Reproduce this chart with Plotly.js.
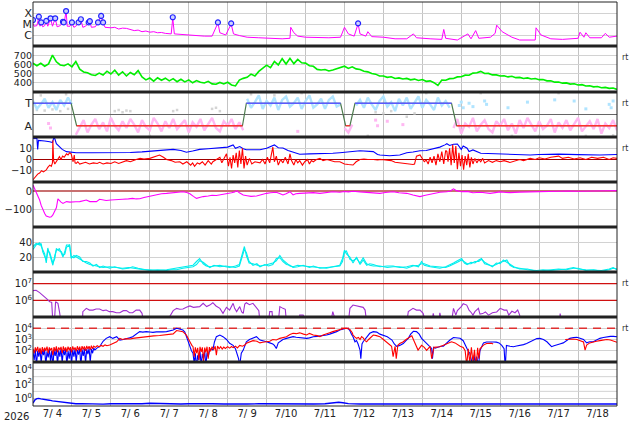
<!DOCTYPE html>
<html><head><meta charset="utf-8">
<script src="https://cdn.plot.ly/plotly-3.0.1.min.js"></script>
<style>html,body{margin:0;padding:0;background:#fff}#c{width:634px;height:424px}</style>
</head><body><div id="c"></div>
<script>
// ---------- DATA (day offset from 2026-07-04 00:00 UT) ----------
const yearLabel = '2026';
const dayTickFormat = '%-m/%e';

// X-ray flux (W/m2)
const xray = [[0,1.15e-5],[0.03,6.3e-6],[0.1,7.1e-6],[0.15,4.0e-5],[0.18,6.3e-6],[0.21,1.26e-5],[0.25,5.6e-6],[0.3,7.1e-6],[0.34,1.66e-5],[0.38,6.3e-6],[0.45,3.2e-5],[0.5,6.3e-6],[0.57,3.2e-5],[0.62,5.6e-6],[0.7,7.1e-6],[0.77,1.5e-5],[0.8,1.26e-5],[0.85,1.4e-4],[0.88,6.3e-6],[0.95,6.3e-6],[1.0,1.26e-5],[1.05,5.0e-6],[1.1,6.3e-6],[1.17,1.26e-5],[1.23,2.5e-5],[1.28,5.0e-6],[1.35,6.3e-6],[1.43,1.26e-5],[1.46,1.6e-5],[1.5,5.0e-6],[1.6,5.6e-6],[1.67,1.26e-5],[1.75,5.0e-5],[1.8,1.26e-5],[1.85,5.0e-6],[2.0,4.5e-6],[2.1,5.0e-6],[2.2,3.5e-6],[2.3,4.2e-6],[2.4,4.0e-6],[2.5,3.0e-6],[2.6,2.5e-6],[2.7,2.8e-6],[2.8,2.0e-6],[2.9,2.3e-6],[3.0,1.8e-6],[3.1,2.0e-6],[3.2,1.6e-6],[3.3,1.7e-6],[3.4,1.4e-6],[3.55,1.26e-6],[3.59,3.5e-5],[3.63,1.26e-6],[3.8,1.1e-6],[4.0,1.0e-6],[4.2,8.9e-7],[4.4,7.9e-7],[4.6,7.9e-7],[4.75,1.26e-5],[4.8,1.6e-6],[4.95,1.0e-6],[5.09,1.0e-5],[5.15,1.26e-6],[5.3,8.9e-7],[5.5,6.3e-7],[5.8,5.6e-7],[6.0,5.0e-7],[6.2,4.5e-7],[6.4,4.5e-7],[6.6,5.0e-7],[6.62,5.0e-6],[6.7,1.6e-6],[6.8,7.9e-7],[7.0,6.3e-7],[7.3,5.6e-7],[7.6,5.6e-7],[7.9,6.3e-7],[8.0,5.0e-6],[8.1,1.26e-6],[8.25,7.9e-7],[8.35,1.05e-5],[8.4,1.26e-6],[8.55,7.9e-7],[8.6,2.0e-6],[8.7,7.1e-7],[9.0,6.3e-7],[9.3,4.5e-7],[9.6,4.5e-7],[9.77,1.26e-6],[9.85,5.6e-7],[10.2,4.5e-7],[10.5,4.0e-7],[10.55,3.2e-6],[10.6,5.0e-7],[10.9,3.5e-7],[11.17,1.26e-6],[11.25,4.5e-7],[11.37,2.5e-6],[11.45,5.0e-7],[11.75,6.3e-7],[11.87,1.4e-6],[11.91,7.9e-6],[12.05,2.0e-6],[12.3,6.3e-7],[12.5,3.5e-7],[12.9,3.5e-7],[12.92,4.5e-6],[13.05,1.0e-6],[13.3,4.5e-7],[13.6,4.0e-7],[14.0,5.0e-7],[14.05,1.8e-6],[14.15,6.3e-7],[14.2,1.6e-6],[14.3,5.6e-7],[14.6,5.6e-7],[14.7,1.4e-6],[14.8,6.3e-7],[15.0,7.9e-7]];
const flares = [[0.0,2.3e-5],[0.15,4.6e-5],[0.21,1.4e-5],[0.34,1.9e-5],[0.45,3.3e-5],[0.57,3.3e-5],[0.77,1.6e-5],[0.79,1.4e-5],[0.85,1.5e-4],[1.0,1.4e-5],[1.17,1.4e-5],[1.23,2.7e-5],[1.43,1.4e-5],[1.46,1.8e-5],[1.67,1.4e-5],[1.75,5.4e-5],[1.8,1.4e-5],[3.59,4.1e-5],[4.75,1.4e-5],[5.09,1.15e-5],[8.35,1.15e-5]];
const xrayTickVals = [1e-6,1e-5,1e-4];
const xrayTickText = ['C','M','X'];

// Solar wind speed (km/s), sampled every 0.1 day from day 0
const speedStep = 0.1;
const speed = [612,586,612,580,606,700,628,594,585,606, 574,632,548,518,510,488,480,506,484,526,
 496,536,484,520,474,512,488,532,464,432, 452,418,455,428,450,421,445,412,438,410,
 432,400,424,405,398,416,388,384,404,388, 406,376,366,430,448,460,494,474,524,554,
 592,564,632,594,662,604,666,608,654,618, 614,586,579,546,539,544,528,539,550,565,
 580,556,573,551,544,526,519,501,494,474, 474,459,465,447,453,441,448,432,440,425,
 435,416,421,401,372,430,428,445,447,464, 466,483,482,505,510,524,501,502,486,486,
 474,476,464,471,456,459,447,453,441,447, 434,435,421,422,407,409,396,399,386,389,
 376,380,366,368,356,359,347,350,340,343, 328];
const speedTicks = [400,500,600,700];

// IMF sector (T = +1, A = -1) and angle cloud, sampled every 0.1 day
const sectorDay = [0,0.98,1.12,5.38,5.48,7.9,8.03,8.14,8.27,10.75,10.88,15];
const sectorVal = [1,1,-1,-1,1,1,-1,-1,1,1,-1,-1];
const phiStep = 0.1;
const phi = [1.2,0.5,0.9,1.4,0.6,1.1,0.4,1.3,0.8,1.5, 0.9, -1.8,
 -1.1,-0.5,-1.6,-0.9,-0.4,-1.3,-0.7,-1.5,-0.3,-1.0,-1.4,-0.6,-1.2,-0.4,-0.9,-1.6,-0.5,-1.1,-1.4,-0.3,-0.8,-1.5,-0.6,-1.2,-0.4,-1.3,-0.9,-0.5,-1.6,-0.7,-1.1,-0.4,-1.4,-0.8,-0.3,-1.2,-1.5,-0.6,-1.0,-0.4,-1.3,-0.7,-1.4,
 1.4,0.6,1.1,1.7,0.5,1.2,0.8,1.5,0.4,1.3,1.6,0.7,1.0,1.5,0.5,1.2,1.7,0.6,0.9,1.4,0.5,1.3,1.6,0.7,
 0.9, -1.2,-1.6,-0.9, 0.8,
 1.3,0.6,1.5,0.9,0.4,1.2,1.6,0.7,1.1,0.3,1.4,0.8,1.5,0.5,1.0,1.6,0.6,1.3,0.9,0.4,1.5,0.8,1.2,0.6,
 -1.2,-0.4,-1.7,-0.8,-1.1,-0.3,-1.5,-0.9,-0.5,-1.3,-1.6,-0.6,-1.0,-0.4,-1.4,-0.8,-1.7,-0.5,-1.2,-0.3,-0.9,-1.5,-0.6,-1.3,-1.0,-0.4,-1.6,-0.7,-1.2,-0.5,-1.4,-0.9,-0.3,-1.5,-1.1,-0.6,-1.3,-0.4,-1.7,-0.8,-1.2,-0.5,-1.4];
const phiGray = [[0.1,0.4],[0.3,0.35],[0.5,0.45],[0.7,0.3],[0.9,0.5],[0.2,1.7],[0.85,1.8],[1.0,1.9],[2.1,0.3],[2.2,0.4],[2.3,0.2],[2.4,0.35],[2.5,0.3],[3.6,0.3],[3.7,0.4],[4.6,0.5],[4.7,0.6],[4.8,0.3],[5.6,1.8],[6.2,1.7],[6.9,1.9],[8.8,0.2],[9.0,0.1],[9.2,0.3],[9.6,-0.2],[9.8,0.1],[10.1,1.9],[11.5,1.9],[12.3,-1.9],[13.0,-1.9],[13.5,1.9],[14.2,-1.9],[14.9,-1.85],[5.0,-1.9],[3.0,-1.9],[8.6,-1.9]];
const phiBlueDots = [[10.95,0.8],[11.0,1.1],[11.05,0.6],[11.2,1.0],[11.3,0.7],[11.6,1.2],[11.65,0.9],[12.2,0.6],[12.7,1.1],[13.4,1.3],[13.9,1.2],[14.2,0.5],[14.8,0.9],[14.85,0.6],[14.9,1.2]];
const phiPinkDots = [[8.8,-0.5],[8.85,-1.0],[9.1,-0.6],[9.5,-0.9],[6.8,-1.5],[0.4,-0.8],[0.45,-1.2]];
const sectorTickVals = [-1,1];
const sectorTickText = ['A','T'];

// IMF Bt (blue) and Bz (red), nT
const bt = [[0,19],[0.05,18.5],[0.1,19],[0.12,9],[0.14,17],[0.2,17],[0.3,16.5],[0.43,15.8],[0.5,15],[0.53,19],[0.56,18.5],[0.6,14],[0.64,12.5],[0.75,9],[0.86,7],[1.0,6.5],[1.11,6],[1.5,6],[2.0,6],[2.5,6.2],[2.8,6.8],[3.08,7.8],[3.3,8.2],[3.6,9],[3.8,8],[3.94,6.5],[4.1,7.5],[4.28,9],[4.5,9.5],[4.8,10.2],[5.0,11],[5.14,12.9],[5.2,10],[5.31,11.5],[5.4,9.5],[5.48,8.7],[5.83,8.7],[6.0,10],[6.16,12.3],[6.2,13],[6.3,10.5],[6.42,10.2],[6.55,8],[6.68,6.5],[6.85,4.6],[7.1,5],[7.37,5],[7.7,5.5],[7.88,6],[8.1,7],[8.4,7.8],[8.74,7],[8.85,4.5],[8.91,4],[9.16,3.3],[9.42,4],[9.6,6],[9.76,6.6],[9.94,7.8],[10.1,8],[10.28,9.5],[10.45,11],[10.58,13],[10.63,14],[10.7,12.5],[10.8,13.5],[10.9,13.8],[11.0,9],[11.05,12],[11.15,10],[11.2,7],[11.3,8.5],[11.5,5.5],[12.0,5],[12.5,4.5],[12.77,4],[13.0,4.5],[13.5,4.8],[14.0,4.3],[14.56,4],[15.0,4.5]];
const bz = [[0,-18],[0.04,-16],[0.08,-15],[0.12,-13],[0.17,-12],[0.22,-10],[0.27,-11],[0.34,-9.3],[0.38,-7],[0.43,-5],[0.47,-6],[0.5,-3],[0.51,17],[0.53,-1],[0.56,-4],[0.6,-2],[0.64,1],[0.68,2.5],[0.72,0],[0.76,3],[0.8,2],[0.86,5],[0.9,4],[0.94,6],[0.98,5],[1.03,-2],[1.06,4],[1.08,-3],[1.11,-3.4],[1.15,-2],[1.2,-4],[1.28,-3],[1.35,-2.5],[1.45,-4],[1.55,-3],[1.65,-3.5],[1.71,-2.5],[1.8,-4],[1.9,-3],[2.0,-3.5],[2.1,-2],[2.2,-3.5],[2.3,-2.5],[2.4,-1],[2.5,-2],[2.56,-1],[2.65,0],[2.75,1],[2.85,0.5],[3.0,1],[3.1,2],[3.25,4],[3.35,2],[3.43,0],[3.55,-1],[3.65,-2.5],[3.77,-2],[3.85,-4],[3.95,-2],[4.05,-5],[4.1,-3],[4.15,-6],[4.22,-3],[4.28,-4],[4.35,-2],[4.42,-5],[4.5,-1],[4.58,-4],[4.62,-2],[4.7,0],[4.8,2],[4.85,-3],[4.9,1],[4.97,5],[5.02,-6],[5.06,2],[5.1,-8],[5.14,4],[5.18,-3],[5.22,6],[5.26,-7],[5.3,8],[5.34,-4],[5.38,10],[5.42,-8],[5.46,3],[5.5,-5],[5.56,1],[5.62,-4],[5.7,-2],[5.83,-3],[5.9,0],[5.96,-4],[6.02,2],[6.08,-3],[6.12,4],[6.16,11],[6.2,-2],[6.25,3],[6.3,-5],[6.36,0],[6.42,-3],[6.48,2],[6.55,-4],[6.6,5],[6.64,-1],[6.7,-5],[6.75,0],[6.8,-3],[6.85,-1],[6.92,-5],[6.98,-2],[7.05,0],[7.1,-4],[7.15,-1],[7.2,-2],[7.28,0],[7.37,1],[7.45,-1],[7.55,0],[7.65,-1],[7.75,-2],[7.88,-2],[7.95,-3],[8.0,-4],[8.1,-4.5],[8.22,-4.9],[8.3,-2],[8.4,0],[8.5,0.5],[8.6,0],[8.74,0],[8.85,-0.5],[8.95,0],[9.1,-0.5],[9.2,-1],[9.3,-2.5],[9.42,-3],[9.5,-3.5],[9.6,-4],[9.7,-4.5],[9.76,-4.5],[9.8,-4],[9.85,3],[9.94,4],[10.0,1],[10.05,-2],[10.1,-0.5],[10.15,-4],[10.2,2],[10.25,-3],[10.3,3],[10.35,-5],[10.4,5],[10.45,-2],[10.5,7],[10.55,-4],[10.6,8],[10.63,7],[10.66,-2],[10.7,10],[10.74,-5],[10.78,13],[10.82,-3],[10.86,12],[10.9,-8.6],[10.94,6],[10.98,-6],[11.02,4],[11.06,-9],[11.1,3],[11.14,-5],[11.18,5],[11.22,-7],[11.26,2],[11.3,-4],[11.35,1],[11.4,-3],[11.45,0],[11.5,-2],[11.55,1],[11.6,-3],[11.7,-1],[11.8,-2.5],[11.9,-1],[12.0,-2],[12.1,-1],[12.25,-2.6],[12.4,-1],[12.5,0],[12.6,-1],[12.77,1],[12.9,0],[13.0,1.5],[13.15,0.5],[13.3,2],[13.5,3],[13.6,1],[13.75,2],[13.9,0.5],[14.05,1.5],[14.2,0],[14.35,2],[14.5,1],[14.65,2],[14.8,0],[14.9,1.5],[15.0,1]];
const imfTicks = [-10,0,10];

// Dst (nT)
const dst = [[0,33],[0.04,15],[0.08,-4],[0.12,-25],[0.17,-50],[0.21,-80],[0.25,-102],[0.3,-125],[0.34,-139],[0.4,-145],[0.43,-146],[0.47,-143],[0.51,-133],[0.55,-115],[0.6,-93],[0.64,-44],[0.68,-54],[0.72,-62],[0.77,-69],[0.82,-64],[0.86,-59],[0.95,-62],[1.03,-63],[1.1,-60],[1.2,-59],[1.3,-55],[1.37,-50],[1.46,-59],[1.55,-57],[1.63,-59],[1.71,-46],[1.8,-52],[1.88,-53],[2.0,-50],[2.1,-50],[2.2,-47],[2.3,-46],[2.45,-44],[2.56,-41],[2.65,-44],[2.74,-43],[2.85,-36],[2.95,-31],[3.08,-22],[3.2,-18],[3.3,-15],[3.43,-13],[3.55,-10],[3.69,-7],[3.85,-4],[3.95,-8],[4.03,-15],[4.12,-30],[4.2,-41],[4.3,-35],[4.37,-31],[4.5,-28],[4.6,-24],[4.71,-25],[4.85,-20],[4.97,-17],[5.1,-10],[5.18,-5],[5.23,2],[5.3,-10],[5.4,-22],[5.5,-26],[5.6,-30],[5.74,-28],[5.85,-20],[6.0,-13],[6.1,-10],[6.25,-7],[6.35,-15],[6.42,-22],[6.5,-15],[6.6,-4],[6.68,-22],[6.75,-15],[6.85,-13],[7.0,-11],[7.2,-9],[7.37,-13],[7.5,-8],[7.7,-4],[7.88,-7],[8.0,-3],[8.1,-5],[8.22,-1],[8.4,-5],[8.57,-7],[8.75,-10],[8.91,-13],[9.05,-8],[9.25,-4],[9.4,-10],[9.6,-13],[9.76,-22],[9.85,-27],[9.94,-31],[10.05,-25],[10.12,-22],[10.28,-15],[10.45,-7],[10.63,-4],[10.72,0],[10.8,12],[10.88,2],[11.0,-4],[11.15,-2],[11.3,-10],[11.5,-7],[11.74,-13],[11.85,-9],[12.0,-5],[12.15,-8],[12.25,-9],[12.5,-6],[12.75,-5],[13.0,-4],[13.25,-2],[13.5,2],[13.75,0],[14.05,-1],[14.3,1],[14.56,2],[14.8,1],[15.0,2]];
const dstTicks = [-100,0];

// Cyan pair of indices: [day, line1, line2]
const cyan = [[0,34,30],[0.08,38,36],[0.17,36,39],[0.21,38,35],[0.25,27,30],[0.3,20,24],[0.34,16,12],[0.38,32,28],[0.43,23,26],[0.47,15,18],[0.51,9,12],[0.56,22,18],[0.6,29,31],[0.68,31,28],[0.73,24,27],[0.77,20,22],[0.82,28,24],[0.86,36,33],[0.94,36,36],[0.98,18,21],[1.05,22,19],[1.11,20,22],[1.2,17,20],[1.28,15,14],[1.37,12,14],[1.46,10,12],[1.54,9,8],[1.63,8,10],[1.71,7,6],[1.8,6,8],[1.97,7,5],[2.1,6,7],[2.3,5,4],[2.45,6,5],[2.56,5,7],[2.7,4,5],[2.85,3,4],[3.0,3,2],[3.2,2,3],[3.43,3,2],[3.55,4,3],[3.69,5,3],[3.85,7,5],[4.0,8,6],[4.11,9,7],[4.2,14,10],[4.28,18,15],[4.37,11,13],[4.45,8,10],[4.54,7,6],[4.65,8,9],[4.8,9,7],[4.95,7,8],[5.05,6,7],[5.2,8,6],[5.3,10,8],[5.38,25,20],[5.43,34,30],[5.48,22,26],[5.55,12,14],[5.65,11,9],[5.75,9,11],[5.83,8,7],[5.95,9,10],[6.05,10,8],[6.16,12,10],[6.25,15,18],[6.34,22,19],[6.42,16,14],[6.51,12,10],[6.6,8,9],[6.68,7,6],[6.8,9,7],[6.94,8,9],[7.1,7,6],[7.2,7,8],[7.37,6,5],[7.54,5,6],[7.7,7,6],[7.88,9,8],[7.95,18,14],[8.0,29,27],[8.05,24,28],[8.14,20,17],[8.22,12,15],[8.31,20,18],[8.4,10,12],[8.48,16,19],[8.57,9,11],[8.65,11,9],[8.74,10,8],[8.91,7,8],[9.1,8,6],[9.25,8,7],[9.42,6,7],[9.6,7,5],[9.76,9,8],[9.9,7,9],[9.98,14,11],[10.05,9,11],[10.2,7,8],[10.35,6,7],[10.45,5,6],[10.6,7,6],[10.7,9,8],[10.8,12,10],[10.9,15,13],[11.01,18,16],[11.08,12,14],[11.15,10,11],[11.25,13,11],[11.35,12,14],[11.45,16,14],[11.52,18,17],[11.6,11,13],[11.7,9,10],[11.8,8,7],[11.9,10,12],[12.0,13,11],[12.08,14,16],[12.17,16,13],[12.25,9,11],[12.35,6,7],[12.5,5,4],[12.7,3,4],[12.94,2,1],[13.1,3,2],[13.3,2,3],[13.5,3,4],[13.7,4,3],[13.88,6,5],[14.0,4,5],[14.2,3,2],[14.4,2,3],[14.6,2,1],[14.8,4,3],[14.9,6,5],[15.0,3,4]];
const cyanTicks = [20,40];

// Electron flux (purple); null marks a data gap
const electron = [[0,3.8e6],[0.08,4.0e6],[0.17,2.9e6],[0.25,2.1e6],[0.34,1.3e6],[0.43,8.3e5],[0.48,7.6e5],[0.51,5e4],[0.55,5e4],[0.58,8.3e5],[0.64,6.6e5],[0.68,2.1e5],[0.72,5e4],[0.8,null],
 [1.27,5e4],[1.28,2.1e5],[1.37,3.3e5],[1.45,2.6e5],[1.54,2.6e5],[1.62,3.0e5],[1.71,3.0e5],[1.8,2.4e5],[1.88,2.6e5],[1.96,2.1e5],[2.05,2.1e5],[2.14,1.8e5],[2.23,1.8e5],[2.32,2.4e5],[2.4,2.4e5],[2.48,1.8e5],[2.56,1.8e5],[2.65,2.6e5],[2.74,2.6e5],[2.8,1.66e5],[2.84,5e4],[3.0,null],
 [3.5,5e4],[3.51,1.05e5],[3.6,2.4e5],[3.69,3.3e5],[3.77,2.9e5],[3.85,3.0e5],[3.94,3.8e5],[4.03,4.6e5],[4.12,3.8e5],[4.2,3.8e5],[4.28,4.2e5],[4.37,6.6e5],[4.46,4.2e5],[4.54,5.2e5],[4.62,7.2e5],[4.7,4.6e5],[4.8,3.3e5],[4.88,1.66e5],[4.97,3.8e5],[5.05,2.6e5],[5.14,6.6e5],[5.18,3.3e5],[5.23,2.1e5],[5.31,4.2e5],[5.36,2.0e5],[5.4,1.66e5],[5.44,6.0e5],[5.48,7.2e5],[5.56,5.5e5],[5.65,6.6e5],[5.74,3.3e5],[5.8,2.4e5],[5.83,5e4],[5.9,null],
 [6.05,5e4],[6.08,2.1e5],[6.14,2.1e5],[6.16,5e4],[6.2,null],[6.3,5e4],[6.34,4.2e5],[6.42,3.3e5],[6.48,2.9e5],[6.51,5e4],[6.6,null],[6.83,5e4],[6.85,1.3e5],[6.94,1.3e5],[7.0,5e4],[7.1,null],
 [7.65,5e4],[7.7,2.1e5],[7.78,5e4],[7.9,null],[8.1,5e4],[8.14,3.3e5],[8.22,5.2e5],[8.31,4.6e5],[8.4,4.2e5],[8.48,3.8e5],[8.53,2.6e5],[8.57,5e4],[8.7,null],
 [9.6,5e4],[9.64,2.1e5],[9.76,3.3e5],[9.85,2.6e5],[9.94,2.6e5],[10.02,1.66e5],[10.08,5e4],[10.15,null],[10.25,5e4],[10.28,1.66e5],[10.33,5e4],[10.38,null],[10.42,5e4],[10.45,1.8e5],[10.5,5e4],[10.6,null],
 [10.75,5e4],[10.8,3.3e5],[10.86,1.3e5],[10.9,2.4e5],[11.0,4.2e5],[11.05,6.3e5],[11.14,5.2e5],[11.2,2.6e5],[11.26,1.8e5],[11.3,1.3e5],[11.35,2.1e5],[11.44,3.3e5],[11.48,1.5e5],[11.55,1.6e5],[11.62,2.0e5],[11.7,1.3e5],[11.8,1.8e5],[11.91,2.0e5],[12.0,3.3e5],[12.1,2.6e5],[12.17,2.6e5],[12.22,1.3e5],[12.3,2.2e5],[12.38,1.8e5],[12.45,2.6e5],[12.5,1.3e5],[12.52,5e4],[12.6,null],
 [13.52,5e4],[13.54,1.6e5],[13.58,5e4]];
const electronAlerts = [1e6,1e7];
const electronTickVals = [1e6,1e7];
const electronTickText = ['10<sup>6</sup>','10<sup>7</sup>'];

// Proton / particle fluxes (blue, red)
const fluxBlue = [[0,80],[0.03,15],[0.06,120],[0.09,5],[0.12,100],[0.15,30],[0.18,140],[0.21,8],[0.24,110],[0.27,40],[0.3,130],[0.33,5],[0.36,90],[0.39,25],[0.42,150],[0.45,12],[0.48,100],[0.51,3],[0.54,120],[0.57,35],[0.6,140],[0.63,6],[0.66,110],[0.69,30],[0.72,160],[0.75,8],[0.78,120],[0.81,40],[0.84,150],[0.87,5],[0.9,100],[0.93,20],[0.96,140],[0.99,6],[1.02,130],[1.05,30],[1.08,150],[1.11,10],[1.14,120],[1.17,45],[1.2,160],[1.23,4],[1.26,130],[1.29,35],[1.32,150],[1.35,8],[1.38,140],[1.41,50],[1.44,160],[1.47,10],[1.5,150],[1.53,60],[1.56,170],[1.59,120],[1.65,180],[1.71,230],[1.8,700],[1.88,1260],[1.97,1780],[2.05,1260],[2.15,1780],[2.23,890],[2.32,1000],[2.4,1100],[2.48,1400],[2.56,1780],[2.65,3160],[2.74,5000],[2.82,4500],[2.91,5000],[3.0,4600],[3.08,4300],[3.17,4800],[3.25,4500],[3.34,4800],[3.43,5000],[3.52,5600],[3.6,6900],[3.69,10000],[3.77,8500],[3.85,6900],[3.9,4500],[3.94,1780],[3.98,600],[4.03,230],[4.07,100],[4.11,59],[4.14,8],[4.17,60],[4.2,3],[4.23,40],[4.26,15],[4.29,80],[4.32,5],[4.35,50],[4.38,20],[4.41,100],[4.44,4],[4.47,70],[4.5,30],[4.54,120],[4.58,150],[4.62,115],[4.66,600],[4.71,1780],[4.8,2500],[4.88,1780],[4.97,1000],[5.05,460],[5.14,300],[5.2,150],[5.23,79],[5.28,20],[5.31,5],[5.35,60],[5.4,115],[5.44,300],[5.48,630],[5.56,1000],[5.65,1260],[5.74,1780],[5.83,890],[5.92,800],[6.0,630],[6.08,500],[6.16,400],[6.2,300],[6.25,160],[6.3,500],[6.34,630],[6.42,1000],[6.51,1260],[6.6,1500],[6.68,1780],[6.76,1600],[6.85,1500],[6.94,1400],[7.03,1260],[7.1,1400],[7.2,1780],[7.3,1900],[7.37,2000],[7.45,2200],[7.54,2500],[7.62,3000],[7.7,3550],[7.8,5000],[7.88,6900],[7.96,8500],[8.05,10000],[8.1,9000],[8.14,6000],[8.18,3000],[8.22,1780],[8.27,630],[8.31,800],[8.35,400],[8.4,115],[8.42,20],[8.45,400],[8.48,630],[8.53,1000],[8.57,1780],[8.65,3550],[8.74,5000],[8.83,4500],[8.91,3000],[9.0,2500],[9.1,1780],[9.16,1260],[9.22,900],[9.28,400],[9.34,250],[9.42,300],[9.51,440],[9.58,800],[9.64,1260],[9.7,3000],[9.77,5400],[9.85,5000],[9.92,3000],[9.98,1260],[10.05,700],[10.11,440],[10.18,250],[10.24,160],[10.26,20],[10.29,200],[10.33,170],[10.4,200],[10.47,250],[10.54,250],[10.62,500],[10.71,900],[10.8,1500],[10.9,1400],[10.97,1300],[11.05,780],[11.1,300],[11.14,150],[11.18,90],[11.22,60],[11.26,20],[11.3,4],[11.33,40],[11.36,8],[11.4,30],[11.44,3],[11.48,100],[11.53,300],[11.57,500],[11.65,600],[11.74,630],[11.82,600],[11.9,580],[11.97,500],[12.04,300],[12.1,150],[12.13,3],[12.16,300],[12.25,250],[12.34,230],[12.42,260],[12.51,280],[12.6,350],[12.68,450],[12.77,630],[12.85,1000],[12.94,1200],[13.02,1260],[13.11,1000],[13.2,630],[13.28,300],[13.32,230],[13.38,280],[13.45,316],[13.53,400],[13.62,500],[13.7,800],[13.79,1260],[13.88,1500],[13.97,1580],[14.05,1300],[14.14,1000],[14.22,500],[14.3,630],[14.39,630],[14.47,900],[14.56,1260],[14.65,1500],[14.74,1780],[14.83,1900],[14.91,1900],[15.0,1780]];
const fluxRed = [[0,150],[0.03,60],[0.06,200],[0.09,90],[0.12,220],[0.15,70],[0.18,180],[0.21,50],[0.24,210],[0.27,80],[0.3,190],[0.33,100],[0.36,230],[0.39,60],[0.42,200],[0.45,110],[0.48,180],[0.51,40],[0.54,210],[0.57,90],[0.6,240],[0.63,70],[0.66,200],[0.69,120],[0.72,220],[0.75,60],[0.78,250],[0.81,100],[0.84,200],[0.87,80],[0.9,230],[0.93,110],[0.96,210],[0.99,70],[1.02,240],[1.05,120],[1.08,200],[1.11,90],[1.14,250],[1.17,110],[1.2,230],[1.23,80],[1.26,260],[1.29,130],[1.32,240],[1.35,100],[1.38,270],[1.41,140],[1.44,250],[1.47,120],[1.5,280],[1.53,150],[1.56,260],[1.6,200],[1.65,280],[1.7,220],[1.75,300],[1.8,250],[1.85,330],[1.9,280],[1.97,320],[2.05,450],[2.15,630],[2.23,1260],[2.3,1000],[2.4,1200],[2.5,1100],[2.56,1260],[2.65,1400],[2.74,1580],[2.85,1700],[3.0,2000],[3.1,2100],[3.25,2240],[3.35,2500],[3.43,2820],[3.5,3000],[3.6,3160],[3.69,6300],[3.75,6000],[3.85,5000],[3.94,2500],[4.0,1200],[4.03,630],[4.08,300],[4.11,230],[4.14,30],[4.17,200],[4.2,60],[4.23,180],[4.26,15],[4.29,220],[4.32,80],[4.35,200],[4.38,12],[4.41,190],[4.44,70],[4.47,230],[4.5,20],[4.53,210],[4.56,90],[4.6,230],[4.64,120],[4.68,250],[4.71,40],[4.74,260],[4.78,150],[4.82,230],[4.86,140],[4.9,210],[4.94,160],[5.0,230],[5.05,170],[5.1,240],[5.14,190],[5.2,260],[5.25,180],[5.31,300],[5.38,250],[5.44,320],[5.48,460],[5.55,560],[5.65,790],[5.75,700],[5.83,500],[5.9,560],[6.0,630],[6.08,700],[6.16,1000],[6.25,900],[6.34,1260],[6.42,1400],[6.51,1780],[6.6,2800],[6.68,3550],[6.76,3300],[6.85,3900],[6.95,3000],[7.03,2500],[7.1,3500],[7.2,2500],[7.3,2200],[7.37,1800],[7.45,2500],[7.54,3500],[7.62,4000],[7.7,5000],[7.8,6500],[7.88,7900],[8.0,10000],[8.1,9000],[8.14,7900],[8.2,4000],[8.22,2500],[8.27,1600],[8.31,1260],[8.36,1500],[8.4,1000],[8.44,1800],[8.48,1400],[8.53,800],[8.57,630],[8.62,1000],[8.65,1260],[8.74,2500],[8.82,2200],[8.91,1800],[9.0,1000],[9.08,630],[9.15,400],[9.21,250],[9.25,30],[9.3,250],[9.33,20],[9.37,300],[9.42,440],[9.5,600],[9.6,1100],[9.73,2100],[9.77,1000],[9.85,230],[9.89,115],[9.98,300],[10.05,200],[10.11,110],[10.2,250],[10.24,20],[10.3,200],[10.45,230],[10.62,380],[10.75,630],[10.84,500],[10.97,250],[11.05,200],[11.1,100],[11.14,5],[11.18,150],[11.22,8],[11.26,200],[11.3,10],[11.34,120],[11.38,3],[11.42,180],[11.45,20],[11.48,150],[11.57,316],[11.65,440],[11.78,460],[11.82,400],[11.9,null],
 [13.67,1000],[13.78,1100],[13.88,1120],[13.97,1000],[14.05,800],[14.14,600],[14.18,115],[14.22,316],[14.3,500],[14.39,630],[14.47,700],[14.56,800],[14.65,900],[14.74,1000],[14.83,900],[14.91,700],[15.0,560]];
const fluxAlert = 1e4;
const fluxTickVals = [100,1000,10000];
const fluxTickText = ['10<sup>2</sup>','10<sup>3</sup>','10<sup>4</sup>'];

// Bottom panel (blue)
const lowFlux = [[0,0.25],[0.05,0.7],[0.1,1.0],[0.15,1.1],[0.2,0.95],[0.25,0.9],[0.3,0.8],[0.35,0.7],[0.42,0.62],[0.5,0.5],[0.58,0.45],[0.65,0.38],[0.75,0.33],[0.86,0.28],[0.95,0.24],[1.1,0.2],[1.25,0.21],[1.4,0.19],[1.6,0.2],[1.8,0.18],[2.0,0.2],[2.2,0.19],[2.4,0.21],[2.56,0.18],[2.8,0.2],[3.0,0.24],[3.2,0.22],[3.43,0.2],[3.6,0.21],[3.8,0.19],[4.0,0.2],[4.28,0.18],[4.6,0.2],[4.9,0.19],[5.14,0.18],[5.5,0.19],[5.8,0.2],[6.1,0.19],[6.5,0.2],[6.85,0.18],[7.2,0.19],[7.5,0.2],[7.75,0.28],[7.85,0.32],[7.96,0.28],[8.1,0.21],[8.4,0.19],[8.8,0.19],[9.2,0.2],[9.6,0.18],[10.0,0.2],[10.5,0.19],[11.0,0.2],[11.5,0.18],[12.0,0.19],[12.5,0.2],[13.0,0.18],[13.5,0.2],[14.0,0.19],[14.5,0.2],[15.0,0.19]];
const lowTickVals = [1,100,10000];
const lowTickText = ['10<sup>0</sup>','10<sup>2</sup>','10<sup>4</sup>'];
const lowGridExtra = [10,1000];

const rtLabelPanels = [2,3,4,7,8];

// ---------- BUILD ----------
const DAY0 = Date.UTC(2026,6,4);
function t(d){ return new Date(DAY0 + d*86400000).toISOString().slice(0,19).replace('T',' '); }
const X = a => a.map(p => t(p[0]));
const V = (a,i) => a.map(p => p[i===undefined?1:i]);
const seqX = (n, step) => Array.from({length:n}, (_,i) => t(i*step));
const gridC = '#d2d2d2';

const traces = [];
function line(x, y, axis, color, width, extra){
  traces.push(Object.assign({type:'scatter', mode:'lines', x:x, y:y, yaxis:axis, xaxis:'x',
    line:{color:color, width:width}, hoverinfo:'skip', connectgaps:false}, extra||{}));
}
function dots(a, axis, color, size){
  traces.push({type:'scatter', mode:'markers', x:X(a), y:V(a), yaxis:axis, xaxis:'x',
    marker:{size:size, color:color, symbol:'square', line:{width:0}}, hoverinfo:'skip'});
}
// panel 1
line(X(xray), V(xray), 'y', '#ff00ff', 1);
traces.push({type:'scatter', mode:'markers', x:X(flares), y:V(flares), yaxis:'y', xaxis:'x',
  marker:{symbol:'circle', size:5, color:'rgba(200,210,255,0.9)', line:{color:'#2222ff', width:1.2}}, hoverinfo:'skip'});
// panel 2
line(seqX(speed.length, speedStep), speed, 'y2', '#00ee00', 1.6);
// panel 3
const phiX = seqX(phi.length, phiStep);
dots(phiGray, 'y3', '#d4d4d4', 2.5);
line(phiX, phi.map(v => v>0 ? v : null), 'y3', '#b0e4ff', 2.4);
line(phiX, phi.map(v => v<0 ? v : null), 'y3', '#ffb8f2', 2.4);
dots(phiBlueDots, 'y3', '#b0e4ff', 3);
dots(phiPinkDots, 'y3', '#ffb8f2', 3);
const secX = sectorDay.map(t);
line(secX, sectorVal, 'y3', '#4d7a4d', 1.2);
const bx=[], by=[], rx=[], ry=[];
for (let i=0;i<sectorVal.length-1;i++){
  if (sectorVal[i]!==sectorVal[i+1]) continue;
  if (sectorVal[i]>0){ bx.push(secX[i],secX[i+1],null); by.push(sectorVal[i],sectorVal[i+1],null); }
  else { rx.push(secX[i],secX[i+1],null); ry.push(sectorVal[i],sectorVal[i+1],null); }
}
line(bx, by, 'y3', '#5a5aff', 1.3);
line(rx, ry, 'y3', '#ff3030', 1.3);
// panel 4
line(X(bt), V(bt), 'y4', '#0000ff', 1.1);
line(X(bz), V(bz), 'y4', '#ff0000', 1.1);
// panel 5
line(X(dst), V(dst), 'y5', '#ff00ff', 1.1);
// panel 6
line(X(cyan), V(cyan,1), 'y6', '#00eeee', 1.1);
line(X(cyan), V(cyan,2), 'y6', '#00eeee', 1.1);
// panel 7
electronAlerts.forEach(a => line([t(0),t(15)], [a,a], 'y7', '#d01010', 1.2));
line(X(electron), V(electron), 'y7', '#a030d0', 1.1);
// panel 8
line([t(0),t(15)], [fluxAlert,fluxAlert], 'y8', '#e03030', 1.4, {line:{color:'#e03030', width:1.4, dash:'8px,6px'}});
line(X(fluxBlue), V(fluxBlue), 'y8', '#0000ff', 1.1);
line(X(fluxRed), V(fluxRed), 'y8', '#ff0000', 1.1);
// panel 9
lowGridExtra.forEach(g => line([t(0),t(15)], [g,g], 'y9', gridC, 1));
line(X(lowFlux), V(lowFlux), 'y9', '#0000ff', 1.4);

// ---------- LAYOUT ----------
const B = [2,46,92,137,182,227,272,317,362,406];
const H = 404;
const dom = i => [(406-B[i+1])/H, (406-B[i])/H];
function yax(i, o){
  return Object.assign({domain:dom(i), anchor:'x', showgrid:true, gridcolor:gridC, gridwidth:1,
    zeroline:false, ticks:'', showline:false, fixedrange:true, tickfont:{size:10, color:'#222'}}, o);
}
const layout = {
  width:634, height:424, margin:{l:33, r:17, t:2, b:18, pad:0},
  paper_bgcolor:'#fff', plot_bgcolor:'#fff', showlegend:false,
  font:{family:'DejaVu Sans, Verdana, sans-serif', size:10, color:'#222'},
  xaxis:{type:'date', range:[t(0), t(15)], tick0:t(0), dtick:86400000, tickformat:dayTickFormat,
    ticklabelmode:'period', showgrid:true, gridcolor:'#c4c4c4', ticks:'', anchor:'y9', zeroline:false,
    showline:false, tickfont:{size:10, color:'#222'}, fixedrange:true},
  yaxis: yax(0,{type:'log', range:[-7,-3], tickmode:'array', tickvals:xrayTickVals, ticktext:xrayTickText, tickfont:{size:11, color:'#222'}}),
  yaxis2: yax(1,{range:[300,800], tickmode:'array', tickvals:speedTicks, tickfont:{size:9.5, color:'#222'}}),
  yaxis3: yax(2,{range:[-2,2], tickmode:'array', tickvals:sectorTickVals, ticktext:sectorTickText, showgrid:false, zeroline:true, zerolinecolor:'#666', zerolinewidth:1, tickfont:{size:11, color:'#222'}}),
  yaxis4: yax(3,{range:[-20,20], tickmode:'array', tickvals:imfTicks, zeroline:true, zerolinecolor:'#a00000', zerolinewidth:1}),
  yaxis5: yax(4,{range:[-200,50], tickmode:'array', tickvals:dstTicks, zeroline:true, zerolinecolor:'#c87070', zerolinewidth:2.5}),
  yaxis6: yax(5,{range:[0,60], tickmode:'array', tickvals:cyanTicks}),
  yaxis7: yax(6,{type:'log', range:[5,7.7], tickmode:'array', tickvals:electronTickVals, ticktext:electronTickText}),
  yaxis8: yax(7,{type:'log', range:[1,5], tickmode:'array', tickvals:fluxTickVals, ticktext:fluxTickText}),
  yaxis9: yax(8,{type:'log', range:[-1,5], tickmode:'array', tickvals:lowTickVals, ticktext:lowTickText}),
  shapes:[], annotations:[]
};
for (let i=1;i<=8;i++){
  const y = (406-B[i])/H;
  layout.shapes.push({type:'line', xref:'paper', yref:'paper', x0:0, x1:1, y0:y, y1:y, line:{color:'#222', width:3}});
}
layout.shapes.push({type:'rect', xref:'paper', yref:'paper', x0:0, x1:1, y0:0, y1:1, line:{color:'#222', width:1}});
rtLabelPanels.forEach(p => {
  const d = dom(p-1);
  layout.annotations.push({xref:'paper', yref:'paper', x:1, y:d[1], xanchor:'left', yanchor:'top', xshift:3, yshift:-5,
    text:'rt', showarrow:false, font:{size:8, color:'#333'}});
});
layout.annotations.push({xref:'paper', yref:'paper', x:0, y:0, xanchor:'right', yanchor:'top', xshift:-2, yshift:-3,
  text:yearLabel, showarrow:false, font:{size:10, color:'#222'}});

Plotly.newPlot('c', traces, layout, {staticPlot:true, displayModeBar:false});
</script></body></html>
